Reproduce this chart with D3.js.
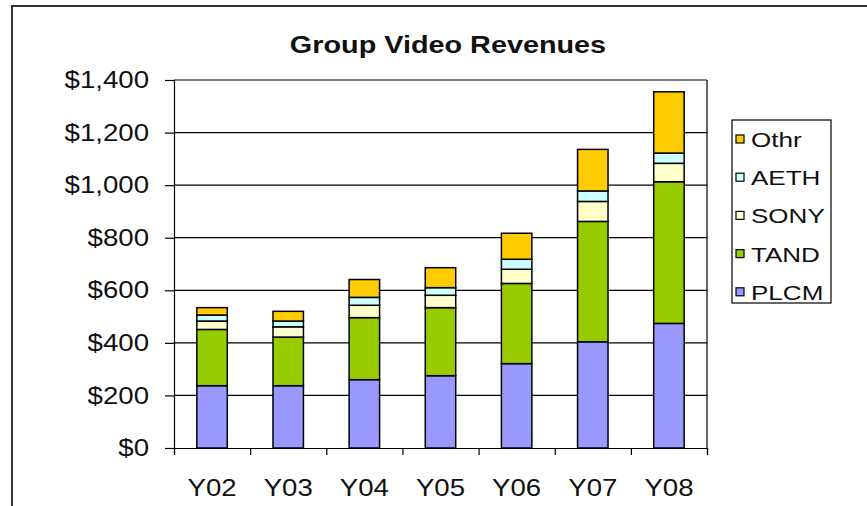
<!DOCTYPE html>
<html>
<head>
<meta charset="utf-8">
<script src="https://cdn.jsdelivr.net/npm/d3@7"></script>
<style>
  body { margin: 0; background: #fff; }
  svg { display: block; font-family: "Liberation Sans", Arial, sans-serif; }
</style>
</head>
<body>
<div id="chart"></div>
<script>
// data ($)
var years = ["Y02", "Y03", "Y04", "Y05", "Y06", "Y07", "Y08"];
var PLCM = [237, 237, 260, 275, 321, 404, 474];
var TAND = [214, 185, 236, 259, 305, 458, 539];
var SONY = [32, 39, 47, 47, 54, 76, 70];
var AETH = [23, 22, 30, 29, 38, 40, 39];
var Othr = [28, 37, 68, 76, 99, 158, 233];
var seriesNames = ["PLCM", "TAND", "SONY", "AETH", "Othr"];
var seriesColors = ["#9999ff", "#99cc00", "#ffffcc", "#ccffff", "#ffcc00"];
var yTicks = [0, 200, 400, 600, 800, 1000, 1200, 1400];

var W = 867, H = 506;
var plot = { left: 174, right: 707, top: 80, bottom: 448 };
var stretch = 1.15; // the original text is drawn a bit wide

var svg = d3.select("#chart").append("svg")
    .attr("width", W)
    .attr("height", H);

// chart area frame (runs off the right and bottom edges)
svg.append("rect")
    .attr("x", 12).attr("y", 6)
    .attr("width", 900).attr("height", 600)
    .attr("fill", "#fff")
    .attr("stroke", "#333")
    .attr("stroke-width", 2);

// title
svg.append("text")
    .attr("transform", "translate(448,53) scale(1.2,1)")
    .attr("text-anchor", "middle")
    .style("font-size", "24px")
    .style("font-weight", "bold")
    .style("fill", "#111")
    .text("Group Video Revenues");

var rows = years.map(function (yr, i) {
    return { year: yr, PLCM: PLCM[i], TAND: TAND[i], SONY: SONY[i], AETH: AETH[i], Othr: Othr[i] };
});
var stacked = d3.stack().keys(seriesNames)(rows);

var x = d3.scaleBand()
    .domain(years)
    .range([plot.left, plot.right])
    .paddingInner(0.6)
    .paddingOuter(0.3);

var y = d3.scaleLinear()
    .domain([0, 1400])
    .range([plot.bottom, plot.top]);

// gridlines
svg.append("g")
    .selectAll("line")
    .data(yTicks.slice(1))
    .enter().append("line")
    .attr("x1", plot.left).attr("x2", plot.right)
    .attr("y1", d => y(d)).attr("y2", d => y(d))
    .attr("stroke", "#000")
    .attr("stroke-width", 1.2);

// right edge of plot area
svg.append("line")
    .attr("x1", plot.right).attr("x2", plot.right)
    .attr("y1", plot.top).attr("y2", plot.bottom)
    .attr("stroke", "#000")
    .attr("stroke-width", 1.2);

// bars
svg.append("g")
    .selectAll("g")
    .data(stacked)
    .enter().append("g")
    .attr("fill", (d, i) => seriesColors[i])
    .selectAll("rect")
    .data(d => d)
    .enter().append("rect")
    .attr("x", d => x(d.data.year))
    .attr("y", d => y(d[1]))
    .attr("width", x.bandwidth())
    .attr("height", d => y(d[0]) - y(d[1]))
    .attr("stroke", "#000")
    .attr("stroke-width", 1.5);

// y axis
var yAxis = svg.append("g")
    .attr("transform", `translate(${plot.left},0)`)
    .call(d3.axisLeft(y).tickValues(yTicks).tickSize(9).tickPadding(16).tickFormat(d3.format("$,")));
yAxis.select(".domain").attr("stroke", "#000").attr("stroke-width", 1.2);
yAxis.selectAll(".tick line").attr("stroke", "#000").attr("stroke-width", 1.2);
yAxis.selectAll(".tick text")
    .attr("x", -25 / stretch)
    .attr("transform", `scale(${stretch},1)`)
    .style("font-size", "24px")
    .style("font-family", "'Liberation Sans', Arial, sans-serif")
    .style("fill", "#111");

// x axis: boundary ticks
var xEdge = d3.scaleLinear().domain([0, years.length]).range([plot.left, plot.right]);
var xAxis = svg.append("g")
    .attr("transform", `translate(0,${plot.bottom})`)
    .call(d3.axisBottom(xEdge).ticks(years.length).tickSize(7).tickFormat(""));
xAxis.select(".domain").attr("stroke", "#000").attr("stroke-width", 1.2);
xAxis.selectAll(".tick line").attr("stroke", "#000").attr("stroke-width", 1.2);

// x axis: category labels
var xLab = svg.append("g")
    .attr("transform", `translate(0,${plot.bottom})`)
    .call(d3.axisBottom(x).tickSize(0).tickPadding(31));
xLab.select(".domain").remove();
xLab.selectAll(".tick text")
    .attr("transform", `scale(${stretch},1)`)
    .style("font-size", "24px")
    .style("font-family", "'Liberation Sans', Arial, sans-serif")
    .style("fill", "#111");

// legend
var legendOrder = seriesNames.slice().reverse();
var legend = svg.append("g");
legend.append("rect")
    .attr("x", 732).attr("y", 120)
    .attr("width", 99).attr("height", 183)
    .attr("fill", "#fff")
    .attr("stroke", "#000")
    .attr("stroke-width", 1.2);

var item = legend.selectAll("g.item")
    .data(legendOrder)
    .enter().append("g")
    .attr("class", "item")
    .attr("transform", (d, i) => `translate(736,${139 + i * 38.2})`);
item.append("rect")
    .attr("x", 0).attr("y", -4)
    .attr("width", 8).attr("height", 8)
    .attr("fill", d => seriesColors[seriesNames.indexOf(d)])
    .attr("stroke", "#000")
    .attr("stroke-width", 1.2);
item.append("text")
    .attr("transform", "translate(15,8) scale(1.24,1)")
    .style("font-size", "21px")
    .style("fill", "#111")
    .text(d => d);
</script>
</body>
</html>
